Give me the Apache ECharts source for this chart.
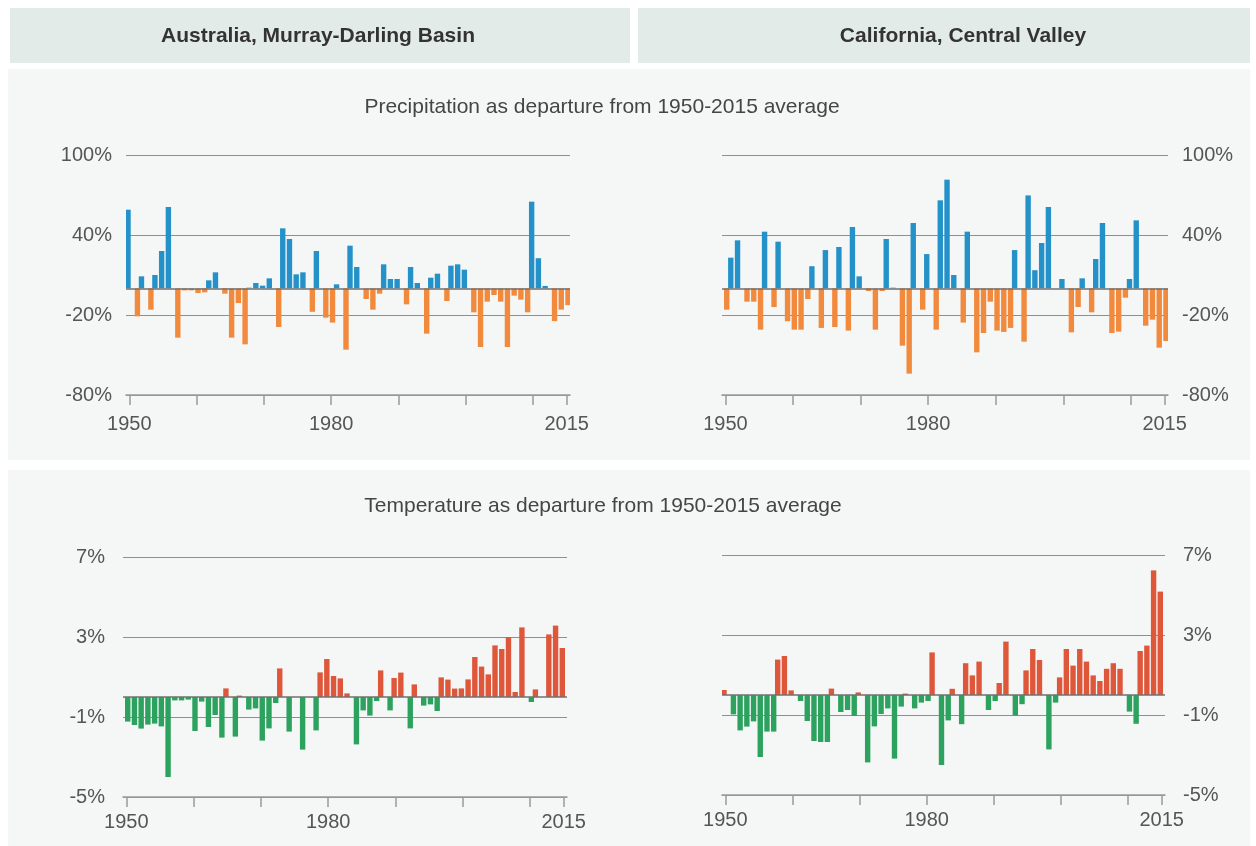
<!DOCTYPE html>
<html>
<head>
<meta charset="utf-8">
<script src="https://cdn.jsdelivr.net/npm/echarts@6/dist/echarts.min.js"></script>
<style>
html,body{margin:0;padding:0;background:#fff;}
#chart{width:1256px;height:846px;}
</style>
</head>
<body>
<div id="chart"></div>
<script>
// ---- Data ----
const years = [];
for (let y = 1950; y <= 2015; y++) years.push(String(y));

const xLabelYears = ['1950', '1980', '2015'];
const xTickYears = ['1950', '1960', '1970', '1980', '1990', '2000', '2010', '2015'];

const headers = ['Australia, Murray-Darling Basin', 'California, Central Valley'];
const precipTitle = 'Precipitation as departure from 1950-2015 average';
const tempTitle = 'Temperature as departure from 1950-2015 average';

// Precipitation departure (%), 1950-2015
const ausPrecip = [59, -21, 9, -16, 10, 28, 61, -37, -1.5, -1.5,
  -3.5, -3, 6, 12, -4, -37, -11, -42, 0.5, 4,
  2, 7.5, -29, 45, 37, 10.5, 12, -17.6, 28, -22,
  -25.7, 3, -46, 32, 16, -8, -16, -4, 18, 7,
  7, -12, 16, 4, -34, 8, 11, -9.5, 17, 18,
  14, -18, -44, -10, -5, -10, -44, -5.5, -8.5, -18,
  65, 22.6, 1.8, -24.6, -16, -12.6];

const calPrecip = [-16, 23, 36, -10, -10, -31, 42.5, -14, 35, -24.7,
  -31, -31, -8, 16.6, -29.7, 28.7, -29, 31, -31.7, 46,
  9, -2, -31, -2, 37, 0.5, -43, -64, 49, -16,
  25.7, -31, 66, 81.5, 10, -25.7, 42.5, -48, -33.5, -10,
  -31.7, -32.7, -29.7, 28.7, -40, 69.7, 13.6, 34, 61, 0,
  7, -33, -14, 7.5, -18, 22, 49, -33.5, -32.5, -7,
  7, 51, -28, -23.5, -44.5, -39.5];

// Temperature departure (%), 1950-2015
const ausTemp = [-1.23, -1.4, -1.58, -1.38, -1.33, -1.47, -4.0, -0.17, -0.17, -0.13,
  -1.7, -0.23, -1.5, -0.9, -2.03, 0.43, -1.98, 0.07, -0.63, -0.57,
  -2.18, -1.57, -0.3, 1.43, -1.73, 0, -2.63, 0, -1.67, 1.23,
  1.9, 1.05, 0.93, 0.18, -2.37, -0.67, -0.93, -0.2, 1.33, -0.67,
  0.95, 1.22, -1.57, 0.63, -0.43, -0.37, -0.7, 0.98, 0.87, 0.42,
  0.43, 0.88, 2.0, 1.52, 1.13, 2.58, 2.4, 3.0, 0.25, 3.48,
  -0.25, 0.38, 0, 3.13, 3.57, 2.45];

const calTemp = [0.25, -0.97, -1.77, -1.58, -1.32, -3.1, -1.83, -1.83, 1.77, 1.95,
  0.23, -0.3, -1.3, -2.3, -2.35, -2.35, 0.32, -0.85, -0.75, -1.05,
  0.13, -3.37, -1.57, -0.95, -0.67, -3.18, -0.58, 0.07, -0.67, -0.38,
  -0.3, 2.13, -3.5, -1.27, 0.31, -1.46, 1.59, 0.98, 1.67, -0.75,
  -0.3, 0.6, 2.67, -1.03, -0.46, 1.23, 2.3, 1.75, -2.72, -0.38,
  0.88, 2.3, 1.47, 2.3, 1.67, 0.98, 0.7, 1.31, 1.59, 1.31,
  -0.83, -1.44, 2.2, 2.47, 6.23, 5.17];

// ---- Styling ----
const FONT = "'Liberation Sans', Arial, sans-serif";
const C = {
  blue: '#2492c8', orange: '#f28a3e', red: '#df573a', green: '#2da25f',
  grid: '#8f8f8f', zero: '#707070', axis: '#9a9a9a', label: '#555555', title: '#454545'
};

const grids = [
  { left: 126, top: 155, width: 444, height: 240 },
  { left: 722, top: 155, width: 446, height: 240 },
  { left: 123, top: 557, width: 444, height: 240 },
  { left: 722, top: 555, width: 443, height: 240 }
];

function xAxis(i) {
  return {
    type: 'category', gridIndex: i, data: years, boundaryGap: true,
    position: 'bottom',
    axisLine: { show: true, onZero: false, lineStyle: { color: C.axis, width: 1.5 } },
    axisTick: {
      show: true, alignWithLabel: true, length: 10,
      interval: (idx, val) => xTickYears.includes(val),
      lineStyle: { color: C.axis, width: 1.5 }
    },
    axisLabel: {
      interval: (idx, val) => xLabelYears.includes(val),
      fontFamily: FONT, fontSize: 20, color: C.label, margin: i < 2 ? 19 : 15
    },
    splitLine: { show: false }
  };
}

function yAxis(i, min, max, interval) {
  const right = (i % 2) === 1;
  return {
    type: 'value', gridIndex: i, min: min, max: max, interval: interval,
    position: right ? 'right' : 'left',
    axisLine: { show: false }, axisTick: { show: false },
    axisLabel: {
      formatter: '{value}%', fontFamily: FONT, fontSize: 20, color: C.label,
      margin: i < 2 ? 14 : 18
    },
    splitLine: { show: true, lineStyle: { color: C.grid, width: 1.2 } }
  };
}

function pair(i, values, posColor, negColor) {
  const pos = values.map(v => (v > 0 ? v : null));
  const neg = values.map(v => (v < 0 ? v : null));
  return [
    {
      type: 'bar', xAxisIndex: i, yAxisIndex: i, data: pos,
      barWidth: 5.4, barGap: '-50%',
      itemStyle: { color: posColor }, silent: true,
      markLine: {
        silent: true, symbol: 'none', label: { show: false },
        lineStyle: { color: C.zero, width: 1.5, type: 'solid' },
        data: [{ yAxis: 0 }]
      }
    },
    {
      type: 'bar', xAxisIndex: i, yAxisIndex: i, data: neg,
      barWidth: 5.4, barGap: '-50%',
      itemStyle: { color: negColor }, silent: true
    }
  ];
}

const option = {
  animation: false,
  backgroundColor: '#ffffff',
  textStyle: { fontFamily: FONT },
  graphic: { elements: [
    { type: 'rect', z: -10, shape: { x: 10, y: 8, width: 620, height: 55 }, style: { fill: '#e3ebe8' } },
    { type: 'rect', z: -10, shape: { x: 638, y: 8, width: 612, height: 55 }, style: { fill: '#e3ebe8' } },
    { type: 'rect', z: -10, shape: { x: 8, y: 69, width: 1242, height: 391 }, style: { fill: '#f5f7f7' } },
    { type: 'rect', z: -10, shape: { x: 8, y: 470, width: 1242, height: 376 }, style: { fill: '#f5f7f7' } },
    { type: 'text', x: 318, y: 36, style: { text: headers[0], font: "bold 21px 'Liberation Sans', Arial, sans-serif", fill: '#333', textAlign: 'center', textVerticalAlign: 'middle' } },
    { type: 'text', x: 963, y: 36, style: { text: headers[1], font: "bold 21px 'Liberation Sans', Arial, sans-serif", fill: '#333', textAlign: 'center', textVerticalAlign: 'middle' } },
    { type: 'text', x: 602, y: 107, style: { text: precipTitle, font: "21px 'Liberation Sans', Arial, sans-serif", fill: C.title, textAlign: 'center', textVerticalAlign: 'middle' } },
    { type: 'text', x: 603, y: 506, style: { text: tempTitle, font: "21px 'Liberation Sans', Arial, sans-serif", fill: C.title, textAlign: 'center', textVerticalAlign: 'middle' } }
  ] },
  grid: grids,
  xAxis: [xAxis(0), xAxis(1), xAxis(2), xAxis(3)],
  yAxis: [yAxis(0, -80, 100, 60), yAxis(1, -80, 100, 60), yAxis(2, -5, 7, 4), yAxis(3, -5, 7, 4)],
  series: [].concat(
    pair(0, ausPrecip, C.blue, C.orange),
    pair(1, calPrecip, C.blue, C.orange),
    pair(2, ausTemp, C.red, C.green),
    pair(3, calTemp, C.red, C.green)
  )
};

const chart = echarts.init(document.getElementById('chart'), null, { renderer: 'canvas' });
chart.setOption(option);
</script>
</body>
</html>
